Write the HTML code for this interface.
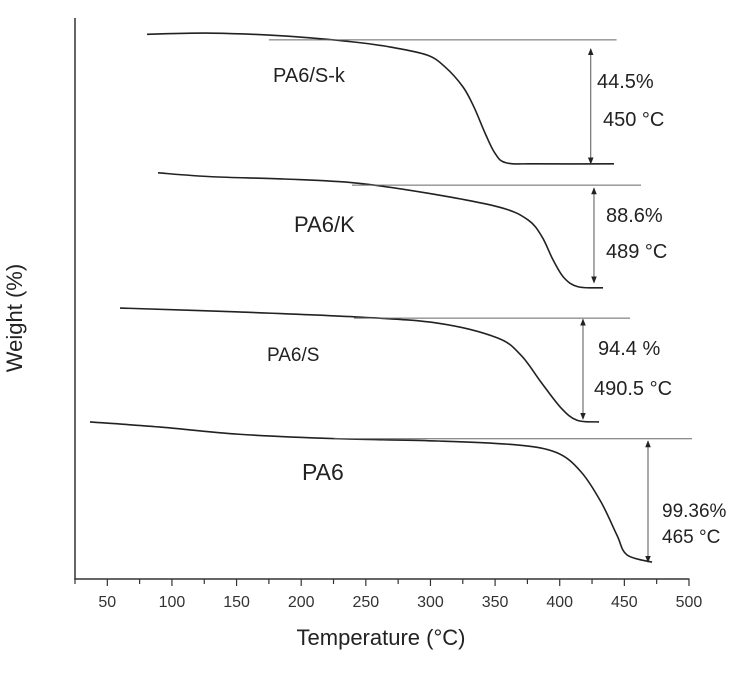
<!DOCTYPE html>
<html><head><meta charset="utf-8"><style>
html,body{margin:0;padding:0;background:#fff;}
svg{display:block;font-family:"Liberation Sans",Arial,sans-serif;}
</style></head><body>
<svg id="chart" width="743" height="675" viewBox="0 0 743 675">
<g id="axes"></g>
<g id="series"></g>
<g id="annots"></g>
<text x="22" y="318" transform="rotate(-90 22 318)" text-anchor="middle" font-size="22" fill="#222">Weight (%)</text>
<text x="381" y="645" text-anchor="middle" font-size="22" fill="#222">Temperature (°C)</text>
</svg>
<script>
const xTicks=[50,100,150,200,250,300,350,400,450,500];
const xTickLabels=["50","100","150","200","250","300","350","400","450","500"];
const skT=[80.7,131,186.7,241.6,269.5,297.3,311.2,325.2,333.7,342.2,349.9,358.4,380.9,442];
const skW=[97.1,97.3,96.8,95.7,94.8,93.4,91.3,87.7,84.1,79.5,75.9,74.2,74.0,74.0];
const kT=[89.2,131,186.7,241.6,297.3,353,375.5,386.3,394.8,403.3,414.1,433.5];
const kW=[72.4,71.7,71.3,70.6,68.8,66.3,64.0,61.0,56.9,53.7,52.1,51.9];
const sT=[59.8,151.9,244,305.8,351.5,370,385.5,401,413.4,430.4];
const sW=[48.3,47.6,46.7,45.6,43.0,39.9,35.1,30.5,28.3,28.0];
const pT=[36.6,90,151.9,228.5,305.8,367,397.9,416.5,432,444.3,452,471.4];
const pW=[28.0,27.1,25.8,25.0,24.6,23.9,22.5,19.1,13.7,7.8,4.3,3.0];
const refStart=[175,239.3,240.8,225.4];
const refEnd=[444,462.9,454.4,502.3];
const refW=[96.1,70.2,46.5,25.0];
const arrowT=[424,426.5,418,468.3];
const arrowTop=[94.5,69.7,46.3,24.6];
const arrowBot=[74.0,52.8,28.5,3.0];
const NS="http://www.w3.org/2000/svg";
function X(t){return 75+(t-25)*1.2926;}
function Y(w){return 579-w*5.61;}
function mk(tag,attrs,parent){const e=document.createElementNS(NS,tag);for(const k in attrs)e.setAttribute(k,attrs[k]);parent.appendChild(e);return e;}
const axes=document.getElementById('axes');
let e=mk('line',{x1:75,y1:18,x2:75,y2:579.5,stroke:'#333','stroke-width':1.5},axes);


e=mk('line',{x1:74.3,y1:579,x2:X(500)+0.5,y2:579,stroke:'#333','stroke-width':1.5},axes);


for(let t=25;t<=500;t+=25){
  const major=(t%50===0);
  e=mk('line',{x1:X(t),y1:579,x2:X(t),y2:major?586:584,stroke:'#333','stroke-width':1.2},axes);
  
  
}
xTicks.forEach((t,i)=>{
  e=mk('text',{x:X(t),y:607,'text-anchor':'middle','font-size':16,fill:'#333'},axes);
  e.textContent=xTickLabels[i];
  
  
});
const series=document.getElementById('series');
const data=[[skT,skW,'curve-pa6-s-k'],[kT,kW,'curve-pa6-k'],[sT,sW,'curve-pa6-s'],[pT,pW,'curve-pa6']];
function smooth(pts){let d='M'+pts[0][0]+','+pts[0][1];for(let i=0;i<pts.length-1;i++){const p0=pts[i-1]||pts[i],p1=pts[i],p2=pts[i+1],p3=pts[i+2]||p2;const c1x=p1[0]+(p2[0]-p0[0])/6,c1y=p1[1]+(p2[1]-p0[1])/6,c2x=p2[0]-(p3[0]-p1[0])/6,c2y=p2[1]-(p3[1]-p1[1])/6;d+=' C'+c1x+','+c1y+' '+c2x+','+c2y+' '+p2[0]+','+p2[1];}return d;}
data.forEach(s=>{
  const pts=s[0].map((t,i)=>[X(t),Y(s[1][i])]);
  e=mk('path',{d:smooth(pts),fill:'none',stroke:'#222','stroke-width':1.6},series);
  
  
});
const ann=document.getElementById('annots');
const defs=mk('defs',{},ann);
const mkr=mk('marker',{id:'ah',viewBox:'0 0 10 10',refX:9,refY:5,markerWidth:7,markerHeight:7,orient:'auto-start-reverse'},defs);
mk('path',{d:'M0,1 L10,5 L0,9 z',fill:'#222'},mkr);
for(let i=0;i<4;i++){
  e=mk('line',{x1:X(refStart[i]),y1:Y(refW[i]),x2:X(refEnd[i]),y2:Y(refW[i]),stroke:'#666','stroke-width':1},ann);
  
  
  e=mk('line',{x1:X(arrowT[i]),y1:Y(arrowTop[i]),x2:X(arrowT[i]),y2:Y(arrowBot[i]),stroke:'#555','stroke-width':1,'marker-start':'url(#ah)','marker-end':'url(#ah)'},ann);
  
  
}
const labels=[["PA6/S-k",273,82,20,'label-pa6-s-k'],["44.5%",597,88,20,'label-loss-s-k'],["450 °C",603,126,20,'label-temp-s-k'],
["PA6/K",294,232,22,'label-pa6-k'],["88.6%",606,222,20,'label-loss-k'],["489 °C",606,258,20,'label-temp-k'],
["PA6/S",267,361,19,'label-pa6-s'],["94.4 %",598,355,20,'label-loss-s'],["490.5 °C",594,395,20,'label-temp-s'],
["PA6",302,480,23,'label-pa6'],["99.36%",662,517,19,'label-loss-pa6'],["465 °C",662,543,19,'label-temp-pa6']];
labels.forEach(l=>{
  e=mk('text',{x:l[1],y:l[2],'font-size':l[3],fill:'#222'},ann);
  e.textContent=l[0];
  
  
});
</script>
</body></html>
